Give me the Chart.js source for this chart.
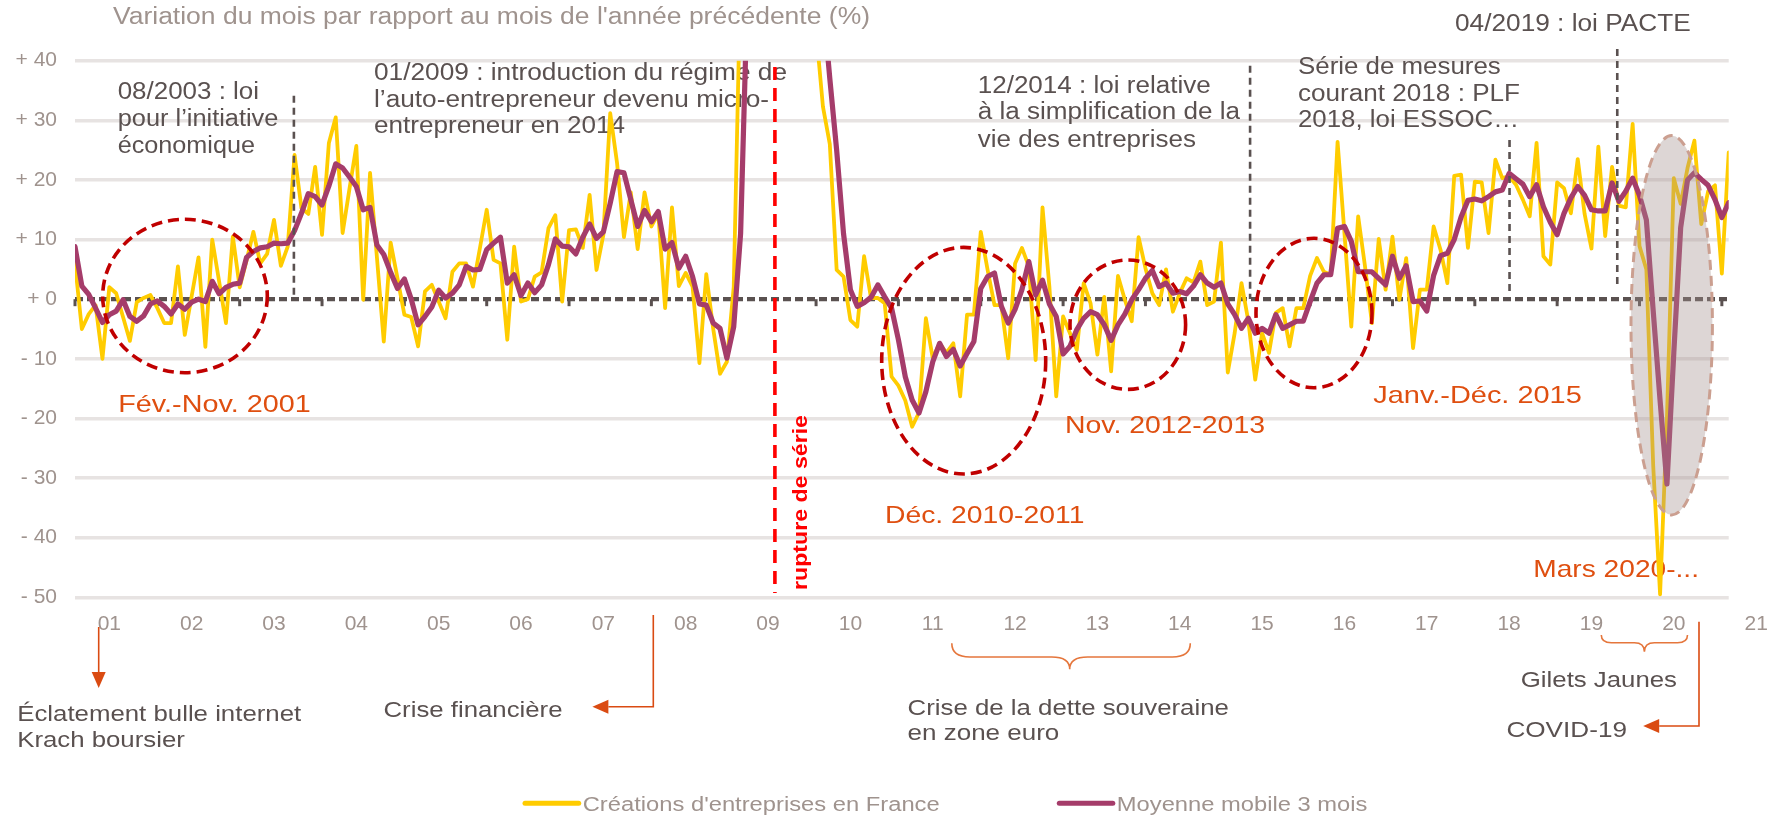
<!DOCTYPE html>
<html lang="fr">
<head>
<meta charset="UTF-8">
<title>Créations d'entreprises en France</title>
<script src="https://cdn.jsdelivr.net/npm/chart.js"></script>
<style>
  body { margin: 0; background: #fff; }
  canvas { display: block; }
</style>
</head>
<body>
<canvas id="chart_creations" width="1781" height="817"></canvas>
<script>
// Données : variation sur un an (%), mensuel, de janv. 2001 à janv. 2021
const seriesNames = ["Créations d'entreprises en France", 'Moyenne mobile 3 mois'];
const annees = ['01','02','03','04','05','06','07','08','09','10','11','12','13','14','15','16','17','18','19','20','21'];

const creations = [
  6, -5, -2.5, -1, -10, 2, 1, -3, -7, -0.5, 0.2, 0.7,
  -1.5, -4, -4, 5.5, -6, 0.5, 7, -8, 10, 3, -4, 10.5,
  2, 6.5, 11.3, 6, 7.6, 13.3, 5.6, 8.8, 24.2, 15.3, 14.3, 22.2,
  10.8, 26.2, 30.5, 11.1, 18.5, 25.7, -0.1, 21.2, 7, -7.1, 9.5, 3.5,
  -2.6, -3, -7.9, 1.3, 2.4, -0.4, -3.2, 4.6, 6, 6, 2.1, 8.5,
  15, 6.6, 6, -6.8, 8.8, -0.4, 0, 3.8, 4.5, 11.9, 14.1, -0.4,
  11.6, 11.7, 8.6, 17.5, 4.9, 10.8, 31.2, 22.8, 10.4, 17.9, 8.4, 17.9,
  12.2, 14.4, -1.5, 15.4, 2.2, 4.4, 2.1, -10.7, 4.2, -4.9, -12.5, -10.5,
  2.1, 55, 80, 100, 110, 105, 100, 95, 90, 85, 75, 62,
  45, 32.3, 26, 4.9, 3.8, -3.5, -4.6, 7.2, 0.2, 0.2, -0.7, -13,
  -14.5, -17, -21.4, -19, -3.2, -9.9, -7.4, -9, -7.4, -16.3, -2.6, -2.6,
  11.3, 4.9, -1, -1, -9.9, 6, 8.6, 5.5, -10.2, 15.4, 2.1, -16.3,
  -2.9, -5.7, -8.5, 2.7, -0.7, -9.3, 0.4, -12.1, 3.9, -0.1, -3.7, 10.4,
  5.2, 1, -1, 5, -2.1, 1, 3.5, 2.8, 6.3, -1, -0.4, 9.5,
  -12.3, -5.7, 2.7, -3.7, -13.5, -5.7, -9, -2.3, -1.5, -7.9, -1.5, -1.5,
  3.9, 6.9, 4.6, 4.1, 26.4, 11.1, -4.6, 13.9, 5.5, -4, 10.1, 1.6,
  10.5, -0.1, 6.9, -8.2, 1.6, 1.6, 12.2, 8.3, 2.7, 20.7, 20.9, 8.6,
  19.7, 19.6, 11.1, 23.4, 20.3, 20.6, 19.2, 16.7, 13.9, 26.2, 7.2, 5.8,
  19.6, 18.6, 14.4, 23.5, 14.3, 8.5, 25.6, 10.6, 22.2, 15.7, 15.4, 29.4,
  8.9, 5, -28, -49.5, -20, 20.3, 16, 22, 26.6, 12.6, 18.1, 19.1,
  4.3, 24.6
];

const moyenne3 = [
  8.8, 2.2, 0.8, -1.5, -3.9, -2.6, -2, -0.1, -2.9, -3.7, -2.8, -0.8,
  -0.3, -1.2, -2.5, -0.8, -1.7, -0.5, 0, -0.4, 3, 0.9, 2, 2.5,
  2.7, 7, 8, 8.6, 8.8, 9.4, 9.3, 9.4, 11.5, 14.4, 17.7, 17.2,
  15.8, 19, 22.7, 22, 20.5, 18.9, 15, 15.4, 9.1, 7.5, 4.5, 1.8,
  3.4, 0, -4.3, -2.9, -1.3, 1.5, 0.2, 1, 2.4, 5.5, 4.9, 5,
  8.3, 9.4, 10.4, 2.7, 4.1, 0.6, 2.7, 1.1, 2.4, 5.8, 10.1, 8.9,
  8.8, 7.6, 10.4, 12.6, 10.2, 11.3, 16.1, 21.4, 21.2, 16.7, 12.2, 14.9,
  13, 14.7, 8.4, 9.5, 5.2, 7.2, 3.8, -0.8, -1, -4, -4.9, -9.9,
  -4.6, 11, 52, 75, 95, 105, 105, 100, 95, 90, 83, 74,
  60, 50, 37, 25, 11, 1.6, -1.2, -0.6, 0.3, 2.4, 0.4, -1.5,
  -6.8, -13, -16.9, -19.1, -15.5, -10.5, -7.4, -9.6, -8.4, -11.2, -9.1, -7.1,
  1.8, 3.8, 4.4, -1.2, -4, -1.7, 1.6, 6.3, 0.7, 3.2, -0.8, -2.9,
  -9.2, -7.9, -5.1, -3.2, -2.1, -2.6, -4.3, -6.9, -4.3, -2.5, -0.1, 1.6,
  3.5, 4.8, 2.1, 2.7, 1, 1.3, 0.9, 2.2, 4.1, 2.7, 2, 2.7,
  -0.8, -2.6, -4.9, -3.2, -5.7, -4.9, -5.7, -2.6, -4.9, -4.3, -3.7, -3.7,
  -0.4, 2.7, 4.1, 4.1, 11.9, 12.2, 9.7, 4.6, 4.6, 4.6, 3.5, 2.4,
  7.2, 3.5, 5.6, -0.4, -0.3, -2, 4, 7.3, 7.7, 10, 13.8, 16.6,
  16.8, 16.5, 17.2, 18, 18.3, 21.1, 20.2, 19.3, 17.2, 19.2, 15.5, 12.9,
  10.8, 14.4, 17, 18.9, 17.4, 15, 14.8, 14.8, 19.5, 16.4, 18.1, 20.3,
  17.4, 13.3, -2, -17, -31, -9, 12, 20, 21.2, 20.1, 19.1, 16.7,
  13.7, 16.2
];

// index du mois (0 = janvier 2001)
const mois = creations.map((v, i) => i);

const FONT = '"Liberation Sans", Arial, sans-serif';
const GRIS = '#5a5150';
const GRIS_CLAIR = '#9f938e';
const ORANGE = '#df4f10';

// textes d'annotation : [texte, x, ligne de base, largeur]
const notes = [
  ['08/2003 : loi', 117.7, 99.3, 141.3],
  ['pour l\u2019initiative', 117.7, 126, 160.7],
  ['économique', 117.7, 152.7, 137.3],
  ['01/2009 : introduction du régime de', 374, 80, 413],
  ['l\u2019auto-entrepreneur devenu micro-', 374, 106.7, 395],
  ['entrepreneur en 2014', 374, 133.3, 251],
  ['12/2014 : loi relative', 977.7, 92.7, 233],
  ['à la simplification de la', 977.7, 119.3, 262.3],
  ['vie des entreprises', 977.7, 146.7, 218.3],
  ['Série de mesures', 1298, 74, 202.7],
  ['courant 2018 : PLF', 1298, 100.7, 222],
  ['2018, loi ESSOC\u2026', 1298, 127.3, 221],
  ['04/2019 : loi PACTE', 1455, 30.5, 235.7]
];
const periodes = [
  ['Fév.-Nov. 2001', 118.3, 412.3, 192.4],
  ['Déc. 2010-2011', 885, 522.7, 199.4],
  ['Nov. 2012-2013', 1065, 433.3, 200],
  ['Janv.-Déc. 2015', 1373.3, 403.3, 208.5],
  ['Mars 2020-...', 1533.3, 577.4, 165.7]
];
const evenements = [
  ['Éclatement bulle internet', 17.2, 720.7, 284],
  ['Krach boursier', 17.2, 747.3, 167.6],
  ['Crise financière', 383.5, 716.7, 179],
  ['Crise de la dette souveraine', 907.6, 715, 321.3],
  ['en zone euro', 907.6, 740, 151.7],
  ['Gilets Jaunes', 1520.8, 687.3, 156.2],
  ['COVID-19', 1506.4, 736.7, 120.6]
];
// lignes verticales pointillées (mois, haut, bas)
const reperes = [[31.9, 95.7, 299], [171.25, 65.7, 299], [209.06, 140, 291], [224.76, 49, 289]];
const cercles = [[185, 296, 82.3, 76.7], [963.7, 360.7, 82, 113.3], [1127.8, 324.7, 57.8, 64.7], [1314, 313, 58, 74.7]];

function fitText(ctx, s, x, y, size, color, w, weight) {
  ctx.save();
  ctx.font = (weight || 'normal') + ' ' + size + 'px ' + FONT;
  ctx.textAlign = 'left';
  ctx.textBaseline = 'alphabetic';
  ctx.fillStyle = color;
  const m = ctx.measureText(s).width;
  ctx.translate(x, y);
  ctx.scale(w / m, 1);
  ctx.fillText(s, 0, 0);
  ctx.restore();
}

function fleche(ctx, pts, color) {
  ctx.save();
  ctx.strokeStyle = color; ctx.fillStyle = color; ctx.lineWidth = 1.6;
  const n = pts.length, t = pts[n - 1], p = pts[n - 2];
  const a = Math.atan2(t[1] - p[1], t[0] - p[0]);
  const L = 16, W = 7;
  ctx.beginPath();
  ctx.moveTo(pts[0][0], pts[0][1]);
  for (let i = 1; i < n - 1; i++) ctx.lineTo(pts[i][0], pts[i][1]);
  ctx.lineTo(t[0] - L * Math.cos(a), t[1] - L * Math.sin(a));
  ctx.stroke();
  ctx.beginPath();
  ctx.moveTo(t[0], t[1]);
  ctx.lineTo(t[0] - L * Math.cos(a) + W * Math.sin(a), t[1] - L * Math.sin(a) - W * Math.cos(a));
  ctx.lineTo(t[0] - L * Math.cos(a) - W * Math.sin(a), t[1] - L * Math.sin(a) + W * Math.cos(a));
  ctx.closePath();
  ctx.fill();
  ctx.restore();
}

function accolade(ctx, x0, x1, xc, yTop, yMid, yTip, r) {
  ctx.save();
  ctx.strokeStyle = '#e5763c'; ctx.lineWidth = 1.6;
  ctx.beginPath();
  ctx.moveTo(x0, yTop);
  ctx.quadraticCurveTo(x0, yMid, x0 + r, yMid);
  ctx.lineTo(xc - r, yMid);
  ctx.quadraticCurveTo(xc, yMid, xc, yTip);
  ctx.quadraticCurveTo(xc, yMid, xc + r, yMid);
  ctx.lineTo(x1 - r, yMid);
  ctx.quadraticCurveTo(x1, yMid, x1, yTop);
  ctx.stroke();
  ctx.restore();
}

const decor = {
  id: 'decor',
  beforeDatasetsDraw(chart) {
    const { ctx, scales: { x, y } } = chart;
    const y0 = y.getPixelForValue(0);
    ctx.save();
    // ligne du zéro et repères annuels
    ctx.strokeStyle = GRIS; ctx.lineWidth = 4.2; ctx.setLineDash([8, 4]);
    ctx.beginPath(); ctx.moveTo(x.left, y0); ctx.lineTo(x.right, y0); ctx.stroke();
    ctx.setLineDash([]); ctx.lineWidth = 3;
    for (let m = 0; m <= 240; m += 12) {
      const px = x.getPixelForValue(m);
      ctx.beginPath(); ctx.moveTo(px, y0); ctx.lineTo(px, y0 + 7); ctx.stroke();
    }
    ctx.restore();

    // titre et textes
    fitText(ctx, "Variation du mois par rapport au mois de l'année précédente (%)", 113, 24, 23, GRIS_CLAIR, 757);
    notes.forEach(n => fitText(ctx, n[0], n[1], n[2], 23, GRIS, n[3]));
    periodes.forEach(n => fitText(ctx, n[0], n[1], n[2], 24, ORANGE, n[3]));
    evenements.forEach(n => fitText(ctx, n[0], n[1], n[2], 22, GRIS, n[3]));
  },
  afterDatasetsDraw(chart) {
    const { ctx, scales: { x } } = chart;
    ctx.save();
    // repères pointillés
    ctx.strokeStyle = GRIS; ctx.lineWidth = 2.6; ctx.setLineDash([7, 5]);
    reperes.forEach(r => {
      const px = x.getPixelForValue(r[0]);
      ctx.beginPath(); ctx.moveTo(px, r[1]); ctx.lineTo(px, r[2]); ctx.stroke();
    });
    // rupture de série
    const pr = x.getPixelForValue(102);
    ctx.strokeStyle = '#ff0000'; ctx.lineWidth = 3.6; ctx.setLineDash([13, 8]);
    ctx.beginPath(); ctx.moveTo(pr, 67); ctx.lineTo(pr, 593); ctx.stroke();
    // cercles des périodes
    ctx.strokeStyle = '#c00000'; ctx.lineWidth = 3.6; ctx.setLineDash([11, 6]);
    cercles.forEach(c => {
      ctx.beginPath(); ctx.ellipse(c[0], c[1], c[2], c[3], 0, 0, Math.PI * 2); ctx.stroke();
    });
    // covid
    ctx.beginPath(); ctx.ellipse(1671.7, 325.3, 40.7, 189.7, 0, 0, Math.PI * 2);
    ctx.fillStyle = 'rgba(162,145,140,0.37)'; ctx.fill();
    ctx.strokeStyle = '#cb9f90'; ctx.lineWidth = 3; ctx.setLineDash([10, 6]); ctx.stroke();
    ctx.restore();

    // texte vertical
    ctx.save();
    ctx.translate(807, 590);
    ctx.rotate(-Math.PI / 2);
    fitText(ctx, 'rupture de série', 0, 0, 20, '#ff0000', 175, 'bold');
    ctx.restore();

    // flèches et accolades
    fleche(ctx, [[98.7, 627], [98.7, 688]], '#da4b12');
    fleche(ctx, [[653.3, 615], [653.3, 706.7], [592.4, 706.7]], '#da4b12');
    fleche(ctx, [[1699, 621.7], [1699, 726], [1643.2, 726]], '#da4b12');
    accolade(ctx, 951.8, 1190.3, 1069.7, 643.3, 657, 669.3, 18);
    accolade(ctx, 1601.3, 1687.5, 1644.4, 635, 642.7, 651.7, 10);

    // légende
    const leg = [[525, 578.7, '#FFCC00', 582.7, 357], [1059.3, 1112.8, '#A53C6A', 1116.8, 250.6]];
    leg.forEach((l, i) => {
      ctx.save();
      ctx.strokeStyle = l[2]; ctx.lineWidth = 5; ctx.lineCap = 'round';
      ctx.beginPath(); ctx.moveTo(l[0], 803.3); ctx.lineTo(l[1], 803.3); ctx.stroke();
      ctx.restore();
      fitText(ctx, seriesNames[i], l[3], 811, 20, GRIS_CLAIR, l[4]);
    });
  }
};

const chart_creations = new Chart(document.getElementById('chart_creations'), {
  type: 'line',
  data: {
    labels: mois,
    datasets: [{
      label: seriesNames[0],
      data: creations,
      borderColor: '#FFCC00',
      borderWidth: 3.8,
      pointRadius: 0,
      pointHoverRadius: 0,
      tension: 0,
      borderJoinStyle: 'round',
      borderCapStyle: 'round',
      clip: 0,
      order: 2
    }, {
      label: seriesNames[1],
      data: moyenne3,
      borderColor: '#A53C6A',
      borderWidth: 5.2,
      pointRadius: 0,
      pointHoverRadius: 0,
      tension: 0,
      borderJoinStyle: 'round',
      borderCapStyle: 'round',
      clip: 0,
      order: 1
    }]
  },
  options: {
    responsive: false,
    animation: false,
    devicePixelRatio: 1,
    events: [],
    layout: {
      autoPadding: false,
      padding: { left: 0, top: 60.7, right: 50, bottom: 159.7 }
    },
    plugins: {
      legend: { display: false },
      tooltip: { enabled: false }
    },
    scales: {
      x: {
        type: 'linear',
        min: 0,
        max: 241,
        grid: { display: false, drawTicks: false },
        border: { display: false },
        afterBuildTicks: s => { s.ticks = annees.map((a, k) => ({ value: k * 12 + 5 })); },
        afterFit: s => { s.height = 60; },
        ticks: {
          autoSkip: false,
          maxRotation: 0,
          padding: 14,
          color: GRIS_CLAIR,
          font: { family: 'Liberation Sans', size: 21 },
          callback: v => annees[Math.round((v - 5) / 12)]
        }
      },
      y: {
        min: -50,
        max: 40,
        afterFit: s => { s.width = 75; },
        grid: {
          color: c => (c.tick && c.tick.value === 0) ? 'rgba(0,0,0,0)' : '#e7e3e2',
          lineWidth: 3.5,
          drawTicks: false
        },
        border: { display: false },
        ticks: {
          stepSize: 10,
          padding: 18,
          color: GRIS_CLAIR,
          font: { family: 'Liberation Sans', size: 21 },
          callback: v => (v < 0 ? '- ' : '+ ') + Math.abs(v)
        }
      }
    }
  },
  plugins: [decor]
});
</script>
</body>
</html>
